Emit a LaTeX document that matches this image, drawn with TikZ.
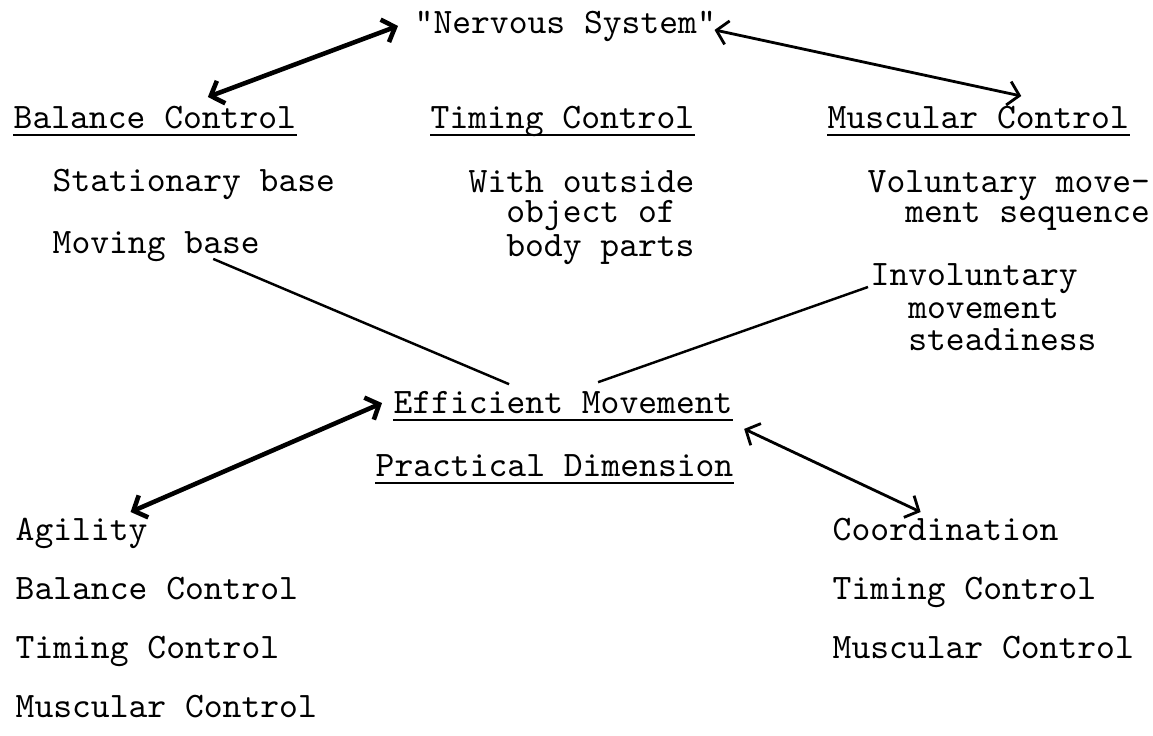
\documentclass[tikz,border=0pt]{standalone}
\usepackage{tikz}
\usetikzlibrary{arrows.meta, positioning}

\begin{document}
\begin{tikzpicture}[
  x=0.1mm, y=-0.1mm,
  font=\fontsize{10.2}{8.54}\selectfont\ttfamily,
  every node/.style={inner sep=0pt},
  txt/.style={anchor=base west},
  blk/.style={anchor=north west, align=left},
  uline/.style={line width=0.6pt},
  link/.style={line width=0.7pt},
  dbl/.style={{Straight Barb[length=1.1mm,width=2.4mm]}-{Straight Barb[length=1.1mm,width=2.4mm]},
              line width=0.8pt},
  dblthick/.style={dbl, line width=1.3pt}
]
\useasboundingbox (0,0) rectangle (1153,735);

% top
\node[txt] (nerv) at (414,33) {"Nervous System"};

\node[txt] (bal) at (13,128) {Balance Control};
\node[txt] (tim) at (430,128) {Timing Control};
\node[txt] (mus) at (827,128) {Muscular Control};

\node[txt] (stat) at (52,191) {Stationary base};
\node[txt, below=6.2mm of stat.base west, anchor=base west] (movb) {Moving base};
\node[blk] (outs) at (468,170) {With outside\\~~object of\\~~body parts};
\node[blk] (volu) at (867,170) {Voluntary move-\\~~ment sequence};
\node[blk] (invol) at (870,263) {Involuntary\\[0.7pt]~~movement\\[0.7pt]~~steadiness};

% middle
\node[txt] (eff) at (393,413) {Efficient Movement};
\node[txt] (prac) at (375,476) {Practical Dimension};

% bottom lists
\node[txt] (agil) at (15,540) {Agility};
\node[txt, below=5.9mm of agil.base west, anchor=base west] (agil2) {Balance Control};
\node[txt, below=5.9mm of agil2.base west, anchor=base west] (agil3) {Timing Control};
\node[txt, below=5.9mm of agil3.base west, anchor=base west] (agil4) {Muscular Control};

\node[txt] (coord) at (832,540) {Coordination};
\node[txt, below=5.9mm of coord.base west, anchor=base west] (coord2) {Timing Control};
\node[txt, below=5.9mm of coord2.base west, anchor=base west] (coord3) {Muscular Control};

\foreach \n in {bal,tim,mus,eff,prac}
  \draw[uline] ([yshift=-0.7mm]\n.base west) -- ([yshift=-0.7mm]\n.base east);

% connectors
\draw[dblthick] ([xshift=-1.6mm]nerv.west) -- ([xshift=5.3mm,yshift=0.8mm]bal.north);
\draw[dbl] ([xshift=-0.2mm,yshift=-0.4mm]nerv.east) -- ([xshift=4.3mm,yshift=0.9mm]mus.north);
\draw[link] ([xshift=5.7mm,yshift=0.3mm]movb.south) -- ([xshift=-5.4mm,yshift=0.6mm]eff.north);
\draw[link] ([xshift=3.5mm,yshift=0.8mm]eff.north) -- ([xshift=-0.2mm,yshift=-2.4mm]invol.north west);
\draw[dblthick] ([xshift=4.9mm,yshift=0.5mm]agil.north) -- ([xshift=-1.1mm,yshift=-0.1mm]eff.west);
\draw[dbl] ([xshift=1.1mm,yshift=-1.5mm]eff.south east) -- ([xshift=-2.5mm,yshift=0.5mm]coord.north);

\end{tikzpicture}
\end{document}
